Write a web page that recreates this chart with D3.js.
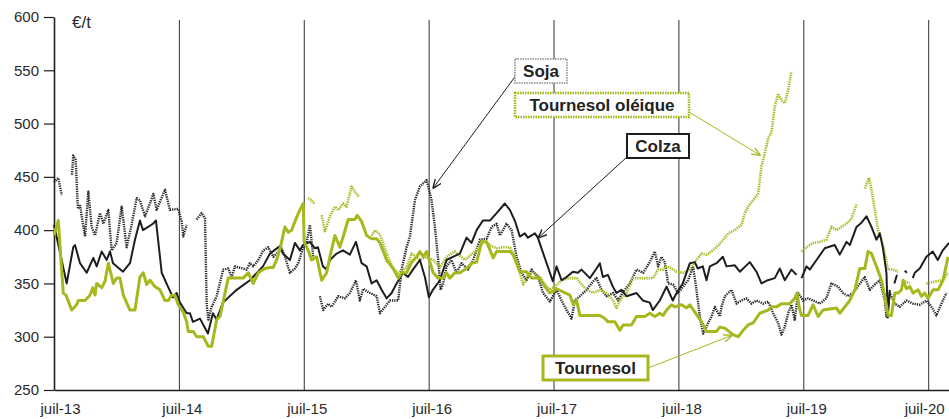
<!DOCTYPE html>
<html>
<head>
<meta charset="utf-8">
<script src="https://cdn.jsdelivr.net/npm/d3@7"></script>
<style>
  body { margin: 0; background: #fff; }
  svg { font-family: "Liberation Sans", Arial, Helvetica, sans-serif; }
</style>
</head>
<body>
<div id="chart"></div>
<script>
// months since juil-13, value in €/t ; null = gap
const colza = [[0,405],[1.22,350],[1.85,384],[2.02,386],[2.5,369],[3.14,360],[3.78,374],[4.1,366],[4.58,380],[5.06,372],[5.38,380],[5.67,369],[6.63,361],[7.3,369],[7.78,391],[8.26,409],[8.55,400],[9.51,406],[9.8,409],[10.35,360],[10.95,347],[11.43,337],[11.79,341],[12.1,332],[12.75,322],[13.06,322],[13.35,314],[14.03,317],[14.79,303],[15.27,322],[15.63,316],[16.23,332],[17.55,344],[18.83,353],[20.08,366],[20.75,378],[21.71,385],[22.0,378],[22.67,372],[23.15,388],[23.63,381],[23.92,386],[24.59,389],[25.07,383],[25.36,384],[25.84,366],[26.2,363],[26.51,372],[27.16,378],[27.76,381],[28.43,377],[29.01,389],[29.56,369],[30.04,366],[30.52,350],[31.0,353],[31.48,344],[31.96,336],[32.44,341],[32.92,350],[33.53,360],[34.01,356],[34.49,363],[35.16,372],[35.64,356],[36.02,337],[36.41,344],[37.08,353],[37.72,372],[38.33,375],[39.0,378],[39.64,393],[40.12,388],[40.61,400],[41.21,409],[41.88,409],[42.53,416],[43.32,425],[43.8,419],[44.28,409],[44.76,394],[45.24,397],[45.53,393],[46.21,397],[46.49,393],[47.93,352],[48.29,366],[48.77,353],[49.25,356],[49.86,361],[50.34,360],[50.69,363],[51.49,355],[52.13,364],[52.45,369],[52.74,356],[53.22,358],[53.7,347],[54.05,341],[54.53,344],[55.01,338],[55.98,341],[56.58,334],[57.25,332],[57.54,325],[58.21,334],[58.86,347],[59.46,334],[59.82,341],[60.42,350],[61.1,369],[61.58,370],[61.86,364],[62.34,366],[62.7,353],[63.02,366],[63.66,369],[64.27,375],[64.62,366],[65.42,367],[65.9,361],[66.86,370],[67.5,361],[67.98,350],[68.59,353],[69.26,355],[69.74,364],[70.22,353],[70.87,363],[71.35,358],[71.6,null],[71.83,355],[72.31,366],[72.62,363],[73.27,372],[74.06,383],[75.02,386],[75.5,377],[76.15,389],[76.47,386],[77.11,403],[77.59,407],[78.07,413],[78.55,403],[79.03,391],[79.35,397],[79.64,384],[79.99,360],[80.12,318],[80.31,344],[80.45,null],[80.75,350],[81.0,358],[81.3,null],[81.75,362],[81.95,360],[82.2,null],[82.52,355],[82.71,360],[83.19,364],[83.83,375],[84.44,380],[84.92,372],[85.4,381],[86,388]];

const tournesol = [[0,395],[0.41,409],[0.89,341],[1.15,339],[1.7,325],[2.18,330],[2.33,334],[2.98,334],[3.46,339],[3.72,346],[3.94,339],[4.1,350],[4.58,346],[4.9,352],[5.22,369],[5.7,350],[6.02,355],[6.34,355],[6.66,339],[7.3,325],[7.78,325],[8.26,356],[8.58,360],[8.9,349],[9.22,353],[9.7,347],[10.18,344],[10.66,334],[10.98,334],[11.31,339],[11.62,339],[11.94,330],[12.42,323],[12.75,314],[12.9,305],[13.38,305],[13.71,300],[14.34,300],[14.82,291],[15.15,291],[15.63,316],[15.95,319],[16.26,333],[16.74,355],[18.18,355],[18.66,360],[19.15,350],[19.63,360],[20.27,364],[20.75,365],[21.07,365],[21.39,372],[21.71,382],[22.19,403],[22.51,398],[22.83,400],[23.31,412],[23.63,419],[23.95,425],[24.04,389],[24.43,381],[24.75,372],[25.24,375],[25.72,353],[26.2,360],[26.51,375],[26.99,395],[27.47,384],[27.79,394],[28.27,410],[28.91,410],[29.13,414],[29.56,408],[30.04,395],[30.52,392],[31.0,392],[31.32,388],[31.96,372],[32.59,364],[33.07,355],[33.4,360],[33.88,360],[34.36,370],[34.84,375],[35.16,380],[35.48,375],[35.8,380],[36.44,360],[36.92,355],[37.4,355],[37.72,360],[38.04,355],[38.52,360],[39.0,360],[39.64,364],[40.12,369],[40.61,370],[41.09,389],[41.57,389],[42.2,374],[42.53,380],[43.8,380],[44.12,377],[44.76,361],[45.4,361],[45.89,355],[46.69,355],[47.17,347],[47.65,341],[48.29,345],[49.57,339],[49.9,330],[50.22,334],[50.53,320],[52.45,320],[52.93,317],[53.25,314],[53.89,314],[54.37,306],[54.69,311],[55.49,311],[55.97,319],[56.77,319],[57.25,322],[57.73,319],[58.21,322],[58.53,320],[58.86,325],[59.34,330],[59.65,328],[60.3,330],[60.78,327],[61.1,330],[61.58,323],[62.22,314],[62.7,305],[63.66,305],[63.98,309],[64.46,308],[65.25,302],[65.74,300],[66.22,306],[66.7,311],[67.18,313],[67.82,322],[68.62,325],[68.94,328],[69.42,328],[69.9,331],[70.7,331],[71.18,336],[71.4,341],[71.6,328],[71.82,320],[72.46,320],[72.94,330],[73.42,319],[73.9,325],[75.19,327],[75.5,322],[76.47,334],[76.95,344],[77.43,364],[77.91,364],[78.22,380],[78.55,378],[79.03,366],[79.51,353],[79.83,338],[80.15,320],[80.47,320],[80.79,341],[81.11,341],[81.43,344],[81.59,353],[81.91,345],[82.23,347],[82.55,341],[83.03,344],[83.35,338],[83.67,341],[83.99,336],[84.47,344],[84.95,344],[85.43,353],[85.91,375]];

const soja = [[0,445],[0.41,449],[0.74,433],[1.2,null],[1.73,452],[1.85,470],[2.08,466],[2.3,420],[2.5,424],[2.66,413],[2.98,394],[3.3,436],[3.62,403],[3.94,395],[4.42,416],[4.74,406],[5.22,419],[5.54,381],[6.02,388],[6.5,422],[6.98,384],[7.46,405],[7.94,430],[8.26,428],[8.74,413],[9.22,425],[9.54,434],[9.86,419],[10.66,438],[11.14,419],[11.94,420],[12.27,408],[12.42,394],[12.75,405],[13.2,null],[13.71,410],[14.19,416],[14.51,411],[14.67,331],[14.83,316],[15.15,328],[15.63,338],[16.26,363],[16.74,364],[17.07,356],[17.39,366],[18.5,363],[18.83,369],[19.15,366],[19.63,372],[20.11,381],[20.59,384],[21.07,375],[21.39,378],[21.87,383],[22.19,375],[22.67,360],[23.15,364],[23.47,369],[23.95,384],[24.27,388],[24.59,405],[24.91,375],[25.2,null],[25.55,338],[25.87,325],[26.35,331],[26.68,328],[27.31,338],[27.95,336],[28.43,341],[29.01,353],[29.39,334],[29.71,345],[30.36,341],[31.0,338],[31.32,322],[31.8,328],[32.28,334],[33.07,334],[33.4,363],[33.88,384],[34.2,394],[34.68,428],[35.16,441],[35.8,447],[36.04,438],[36.28,428],[36.6,403],[36.92,372],[37.15,344],[37.4,350],[37.72,366],[38.2,372],[38.68,360],[39.16,369],[39.8,363],[40.28,372],[40.92,391],[41.57,392],[42.05,403],[42.53,406],[42.84,395],[43.48,406],[43.97,400],[44.45,375],[44.93,360],[45.4,353],[45.89,363],[46.52,356],[47.0,341],[47.65,333],[48.29,344],[48.77,334],[49.25,325],[49.73,317],[50.05,334],[50.53,338],[51.17,344],[51.81,352],[52.13,355],[52.61,344],[53.09,338],[53.73,341],[54.21,334],[54.69,342],[55.33,350],[55.97,363],[56.61,360],[57.25,370],[57.73,380],[58.05,366],[58.37,375],[58.69,370],[59.01,350],[59.49,349],[59.97,341],[60.45,347],[60.93,353],[61.41,366],[61.73,344],[62.06,319],[62.38,303],[62.86,313],[63.18,319],[63.5,328],[63.98,319],[64.14,328],[64.46,338],[65.1,344],[65.58,331],[66.06,334],[66.54,336],[67.02,331],[67.5,334],[68.14,331],[68.62,333],[69.1,322],[69.58,313],[69.9,302],[70.22,309],[70.54,322],[70.86,330],[71.18,316],[71.5,341],[71.98,334],[72.46,336],[72.94,334],[73.58,331],[74.22,336],[74.7,350],[75.34,347],[75.82,341],[76.3,338],[76.78,341],[77.9,356],[78.38,344],[78.86,349],[79.35,353],[79.83,334],[79.99,319],[80.31,341],[80.79,331],[81.27,328],[81.91,334],[82.55,331],[83.19,330],[83.83,334],[84.31,328],[84.79,320],[85.27,331],[85.75,341]];

const oleique = [[24.43,430],[24.75,428],[25.07,424],[25.4,null],[25.72,414],[26.03,399],[26.51,413],[26.99,422],[27.31,419],[27.79,425],[28.11,422],[28.59,441],[28.91,436],[29.33,431],[29.8,null],[30.52,395],[30.84,400],[31.32,396],[31.96,378],[32.59,364],[33.07,360],[33.4,362],[33.88,365],[34.36,378],[34.84,375],[35.16,372],[35.8,375],[36.44,372],[37.08,365],[37.72,375],[38.52,380],[39.48,372],[40.44,380],[41.4,390],[41.88,386],[42.53,383],[43.16,384],[43.8,384],[44.28,375],[44.76,360],[45.08,349],[45.56,358],[46.04,360],[46.69,356],[47.17,349],[47.65,344],[48.13,347],[48.77,353],[49.57,355],[50.22,355],[50.7,349],[51.18,344],[51.81,341],[52.45,344],[53.09,341],[53.73,334],[54.05,327],[54.37,334],[55.01,341],[55.65,355],[56.13,355],[56.93,355],[57.57,355],[58.05,363],[58.53,363],[58.86,366],[59.34,364],[59.82,361],[60.45,360],[61.1,363],[61.73,372],[62.22,378],[62.7,377],[63.18,380],[63.66,384],[64.14,389],[64.78,397],[65.42,400],[66.06,405],[66.38,416],[66.7,422],[67.18,428],[67.66,434],[67.98,460],[68.3,472],[68.62,486],[68.94,492],[69.26,516],[69.58,528],[69.9,522],[70.22,519],[70.54,531],[70.86,549],[71.3,null],[71.83,380],[72.31,384],[72.94,388],[73.58,389],[74.22,391],[74.7,403],[75.18,400],[75.66,403],[76.15,406],[76.63,411],[77.11,424],[77.5,null],[77.91,439],[78.32,449],[78.55,438],[78.87,419],[79.19,400],[79.51,391],[79.83,378],[80.15,363],[80.64,363],[81.11,361],[81.4,null],[81.75,352],[82.23,350],[83,null],[83.83,350],[84.79,352],[85.43,353],[85.91,360]];

const xTicks = [0, 12, 24, 36, 48, 60, 72, 84];
const xLabels = ["juil-13", "juil-14", "juil-15", "juil-16", "juil-17", "juil-18", "juil-19", "juil-20"];
const yTicks = [250, 300, 350, 400, 450, 500, 550, 600];

const width = 949, height = 419;
const green = "#a6b81d", dark = "#1e1e1e";

const svg = d3.select("#chart").append("svg")
  .attr("width", width)
  .attr("height", height);

const x = d3.scaleLinear().domain([0, 86]).range([54, 949]);
const y = d3.scaleLinear().domain([250, 600]).range([390, 17]);

// vertical lines at each July
svg.append("g")
  .selectAll("line")
  .data(xTicks.slice(1))
  .join("line")
  .attr("x1", d => x(d) + 0.5).attr("x2", d => x(d) + 0.5)
  .attr("y1", 20).attr("y2", 390)
  .attr("stroke", "#333")
  .attr("stroke-width", 1);

// y axis
const yAxis = svg.append("g")
  .attr("transform", "translate(54,0)")
  .call(d3.axisLeft(y).tickValues(yTicks).tickSize(10).tickSizeOuter(0).tickPadding(5));
yAxis.select(".domain").attr("stroke", dark).attr("stroke-width", 1.6);
yAxis.selectAll(".tick line").attr("stroke", dark).attr("stroke-width", 1.2);
yAxis.selectAll("text").attr("font-size", 15).attr("fill", "#2a2a2a")
  .attr("font-family", "'Liberation Sans', Arial, sans-serif");

// x axis
const xAxis = svg.append("g")
  .attr("transform", "translate(0,390)")
  .call(d3.axisBottom(x).tickValues(xTicks).tickSize(0).tickPadding(13)
    .tickFormat((d, i) => xLabels[i]));
xAxis.select(".domain").attr("stroke", dark).attr("stroke-width", 1.6);
xAxis.selectAll("text").attr("font-size", 15).attr("fill", "#2a2a2a")
  .attr("font-family", "'Liberation Sans', Arial, sans-serif")
  .attr("dx", (d, i) => i === 0 ? 6 : (i === xTicks.length - 1 ? -4 : 3));

svg.append("text")
  .attr("x", 72).attr("y", 28)
  .attr("font-size", 17)
  .attr("fill", "#2a2a2a")
  .text("€/t");

const line = d3.line()
  .defined(d => d[1] != null)
  .x(d => x(d[0]))
  .y(d => y(d[1]));

const series = [
  { data: soja, color: "#2a2a2a", w: 2.4, dash: "1.3 1" },
  { data: oleique, color: green, w: 2.6, dash: "1.3 1" },
  { data: colza, color: dark, w: 2, dash: null },
  { data: tournesol, color: green, w: 3, dash: null }
];

svg.append("g")
  .selectAll("path")
  .data(series)
  .join("path")
  .attr("fill", "none")
  .attr("stroke", d => d.color)
  .attr("stroke-width", d => d.w)
  .attr("stroke-dasharray", d => d.dash)
  .attr("stroke-linejoin", "round")
  .attr("d", d => line(d.data));

// annotations : box layout + data point the leader points at
const notes = [
  { label: "Soja", box: [515, 59, 52, 24], from: [517, 74], to: [36.4, 439], color: "#8a8a8a", bw: 1.5, dash: "1.5 1", lc: dark },
  { label: "Tournesol oléique", box: [515, 93, 174, 24], from: [689, 112], to: [67.9, 470], color: green, bw: 2.5, dash: "1.5 1", lc: green },
  { label: "Colza", box: [627, 134, 62, 24], from: [627, 157], to: [46.5, 392.5], color: dark, bw: 2, dash: null, lc: dark },
  { label: "Tournesol", box: [543, 356, 105, 24], from: [648, 368], to: [65.2, 301.5], color: green, bw: 3, dash: null, lc: green }
];

svg.append("defs").selectAll("marker")
  .data([["ah-dark", dark], ["ah-green", green]])
  .join("marker")
  .attr("id", d => d[0])
  .attr("viewBox", "0 0 10 10")
  .attr("refX", 10).attr("refY", 5)
  .attr("markerWidth", 9).attr("markerHeight", 9)
  .attr("markerUnits", "userSpaceOnUse")
  .attr("orient", "auto")
  .append("path")
  .attr("d", "M0,1 L10,5 L0,9")
  .attr("fill", "none")
  .attr("stroke", d => d[1])
  .attr("stroke-width", 1.5);

svg.append("g")
  .selectAll("line")
  .data(notes)
  .join("line")
  .attr("x1", d => d.from[0]).attr("y1", d => d.from[1])
  .attr("x2", d => x(d.to[0])).attr("y2", d => y(d.to[1]))
  .attr("stroke", d => d.lc)
  .attr("stroke-width", 1)
  .attr("marker-end", d => d.lc === green ? "url(#ah-green)" : "url(#ah-dark)");

const ng = svg.append("g")
  .selectAll("g")
  .data(notes)
  .join("g");

ng.append("rect")
  .attr("x", d => d.box[0]).attr("y", d => d.box[1])
  .attr("width", d => d.box[2]).attr("height", d => d.box[3])
  .attr("fill", "#fff")
  .attr("stroke", d => d.color)
  .attr("stroke-width", d => d.bw)
  .attr("stroke-dasharray", d => d.dash);

ng.append("text")
  .attr("x", d => d.box[0] + d.box[2] / 2)
  .attr("y", d => d.box[1] + d.box[3] / 2 + 6)
  .attr("text-anchor", "middle")
  .attr("font-size", 17)
  .attr("font-weight", "bold")
  .attr("fill", "#222")
  .text(d => d.label);
</script>
</body>
</html>
